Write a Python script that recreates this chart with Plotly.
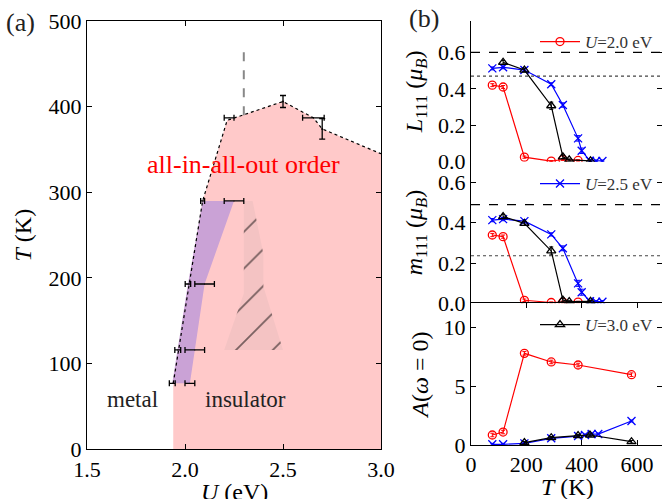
import plotly.graph_objects as go

# ---------------- data: panel (a) phase diagram ----------------
phase_U = [1.94, 2.09, 2.215, 2.5, 2.655, 2.7, 3.0]
phase_T = [77, 290, 384, 406, 387, 374, 345]

purple_T = [77, 116, 193, 290]
purple_left_U = [1.935, 1.963, 2.015, 2.09]
purple_right_U = [2.025, 2.05, 2.1, 2.25]

hatch_U = [2.3, 2.345, 2.4, 2.4, 2.5, 2.2, 2.3]
hatch_T = [290, 290, 228, 190, 116, 116, 182]

eb_small_U = [1.935, 1.963, 2.015, 2.09]
eb_small_T = [77, 116, 193, 290]
eb_small_err = [0.015, 0.015, 0.014, 0.01]

eb_large_U = [2.025, 2.05, 2.1, 2.25, 2.225, 2.655]
eb_large_T = [77, 116, 193, 290, 387, 387]
eb_large_err = [0.025, 0.05, 0.05, 0.05, 0.025, 0.055]

eb_vert_U = [2.5, 2.7]
eb_vert_T = [406, 374]
eb_vert_err = [7, 12]

dash_U = [2.3, 2.3]
dash_T = [390, 464]

# ---------------- data: panel (b) ----------------
T_red = [77, 116, 193, 290, 332, 387]
L_red = [0.42, 0.41, 0.025, 0.003, 0.012, 0.007]
m_red = [0.339, 0.331, 0.015, 0.004, 0.006, 0.006]
err_red = [0.008, 0.008, 0.006, 0.003, 0.005, 0.004]

T_blue = [77, 116, 193, 290, 332, 387, 400, 430, 452, 475]
L_blue = [0.512, 0.518, 0.503, 0.425, 0.311, 0.128, 0.06, 0.005, 0.004, 0.004]
m_blue = [0.413, 0.418, 0.408, 0.342, 0.273, 0.099, 0.055, 0.01, 0.008, 0.008]
err_blue = [0.008, 0.008, 0.008, 0.008, 0.012, 0.015, 0.015, 0.006, 0.005, 0.005]

T_blk = [116, 193, 290, 332, 355, 432]
L_blk = [0.545, 0.503, 0.307, 0.027, 0.01, 0.005]
m_blk = [0.43, 0.397, 0.26, 0.016, 0.008, 0.01]
err_blk = [0.01, 0.01, 0.02, 0.01, 0.005, 0.004]

TA_red = [77, 116, 193, 290, 387, 580]
A_red = [0.85, 1.1, 7.78, 7.05, 6.79, 5.97]
TA_blue = [77, 116, 193, 290, 387, 412, 436, 460, 580]
A_blue = [0.06, 0.06, 0.14, 0.57, 0.76, 0.85, 0.93, 0.93, 2.04]
TA_blk = [193, 290, 387, 430, 580]
A_blk = [0.2, 0.62, 0.8, 0.85, 0.28]

L_dash, L_dot = 0.6, 0.47
m_dash, m_dot = 0.49, 0.236

FONT = "Liberation Serif"
PINK = "#FFC9C9"
PURPLE = "#CAA2D6"
HATCH = "#F4C3C3"

fig = go.Figure()

# pink ordered region
fig.add_trace(go.Scatter(
    x=[phase_U[0]] + phase_U + [phase_U[-1]], y=[0] + phase_T + [0],
    fill="toself", fillcolor=PINK, line=dict(width=0), mode="lines",
    showlegend=False, hoverinfo="skip", xaxis="x", yaxis="y"))
# purple coexistence
fig.add_trace(go.Scatter(
    x=purple_left_U + purple_right_U[::-1], y=purple_T + purple_T[::-1],
    fill="toself", fillcolor=PURPLE, line=dict(width=0), mode="lines",
    showlegend=False, hoverinfo="skip", xaxis="x", yaxis="y"))
# hatched region
fig.add_trace(go.Scatter(
    x=hatch_U, y=hatch_T, fill="toself", fillcolor=HATCH,
    fillpattern=dict(shape="/", fgcolor="black", bgcolor=HATCH, size=26, solidity=0.07),
    line=dict(width=0), mode="lines", showlegend=False, hoverinfo="skip",
    xaxis="x", yaxis="y"))
# dotted boundary
fig.add_trace(go.Scatter(
    x=phase_U, y=phase_T, mode="lines", line=dict(color="black", width=1.2, dash="dot"),
    showlegend=False, hoverinfo="skip", xaxis="x", yaxis="y"))
# dashed gray line
fig.add_trace(go.Scatter(
    x=dash_U, y=dash_T, mode="lines", line=dict(color="#888888", width=2, dash="dash"),
    showlegend=False, hoverinfo="skip", xaxis="x", yaxis="y"))
# error bars
for U, T, e in [(eb_small_U, eb_small_T, eb_small_err), (eb_large_U, eb_large_T, eb_large_err)]:
    fig.add_trace(go.Scatter(
        x=U, y=T, mode="markers", marker=dict(size=1, color="black"),
        error_x=dict(type="data", array=e, color="black", thickness=1.3, width=3),
        showlegend=False, hoverinfo="skip", xaxis="x", yaxis="y"))
fig.add_trace(go.Scatter(
    x=eb_vert_U, y=eb_vert_T, mode="markers", marker=dict(size=2, color="black"),
    error_y=dict(type="data", array=eb_vert_err, color="black", thickness=1.3, width=3),
    showlegend=False, hoverinfo="skip", xaxis="x", yaxis="y"))

# ---- panel (b) traces ----
styles = {
    "red": dict(color="red", symbol="circle-open"),
    "blue": dict(color="blue", symbol="x-thin"),
    "black": dict(color="black", symbol="triangle-up-open"),
}

def add_series(T, v, err, key, ax, legend=None, name=None):
    st = styles[key]
    fig.add_trace(go.Scatter(
        x=T, y=v, mode="lines+markers", name=name,
        line=dict(color=st["color"], width=1.2),
        marker=dict(symbol=st["symbol"], size=8, color=st["color"],
                    line=dict(color=st["color"], width=1.3)),
        error_y=dict(type="data", array=err, color=st["color"], thickness=1, width=2),
        showlegend=legend is not None, legend=legend or "legend",
        xaxis="x2", yaxis=ax))

add_series(T_red, L_red, err_red, "red", "y2", "legend", "<i>U</i>=2.0 eV")
add_series(T_blue, L_blue, err_blue, "blue", "y2")
add_series(T_blk, L_blk, err_blk, "black", "y2")

add_series(T_red, m_red, err_red, "red", "y3")
add_series(T_blue, m_blue, err_blue, "blue", "y3", "legend2", "<i>U</i>=2.5 eV")
add_series(T_blk, m_blk, err_blk, "black", "y3")

add_series(TA_red, A_red, [0.15] * len(A_red), "red", "y4")
add_series(TA_blue, A_blue, [0.08] * len(A_blue), "blue", "y4")
add_series(TA_blk, A_blk, [0.1] * len(A_blk), "black", "y4", "legend3", "<i>U</i>=3.0 eV")

# reference lines (horizontal) in panel b
for y, dash, ax in [(L_dash, "dash", "y2"), (L_dot, "dot", "y2"), (m_dash, "dash", "y3"), (m_dot, "dot", "y3")]:
    fig.add_trace(go.Scatter(
        x=[0, 700], y=[y, y], mode="lines",
        line=dict(color="black" if dash == "dash" else "#444444", width=1.2, dash=dash),
        showlegend=False, hoverinfo="skip", xaxis="x2", yaxis=ax))

W, H = 662, 499
def px_x(p): return p / W
def px_y(p): return 1 - p / H

tickfont = dict(family=FONT, size=22, color="black")
titlefont = dict(family=FONT, size=24, color="black")
axis_common = dict(showline=True, linecolor="black", linewidth=1, mirror="ticks",
                   ticks="inside", ticklen=5, tickcolor="black", tickwidth=1,
                   showgrid=False, zeroline=False, tickfont=tickfont, automargin=False)

xr_right = (W - 471) / 0.2767
legfont = dict(family=FONT, size=17, color="#333333")

def paper_text(text, x, y, font):
    return dict(text=text, x=px_x(x), y=px_y(y), xref="paper", yref="paper",
                xanchor="center", yanchor="middle", showarrow=False, font=font)

fig.update_layout(
    width=W, height=H, margin=dict(l=0, r=0, t=0, b=0),
    paper_bgcolor="white", plot_bgcolor="rgba(0,0,0,0)",
    font=dict(family=FONT, color="black"),
    xaxis=dict(domain=[px_x(87), px_x(381)], range=[1.5, 3.0], dtick=0.5, tickformat=".1f",
               anchor="y", **axis_common),
    yaxis=dict(domain=[px_y(449.3), px_y(21)], range=[0, 500], dtick=100,
               anchor="x", title=dict(text="<i>T</i> (K)", font=titlefont, standoff=10), **axis_common),
    xaxis2=dict(domain=[px_x(471), 1.0], range=[0, xr_right], tickvals=[0, 200, 400, 600],
                anchor="y4", **axis_common),
    xaxis3=dict(domain=[px_x(471), 1.0], range=[0, xr_right], tickvals=[0, 200, 400, 600],
                anchor="y2", matches="x2", showticklabels=False, **axis_common),
    xaxis4=dict(domain=[px_x(471), 1.0], range=[0, xr_right], tickvals=[0, 200, 400, 600],
                anchor="y3", matches="x2", showticklabels=False, **axis_common),
    yaxis2=dict(domain=[px_y(161.7), px_y(21)], range=[0, 0.772], tickvals=[0, 0.2, 0.4, 0.6],
                tickformat=".1f", anchor="x2",
                title=dict(text="<i>L</i><sub>111</sub> (<i>μ<sub>B</sub></i>)", font=titlefont, standoff=8),
                **axis_common),
    yaxis3=dict(domain=[px_y(303.3), px_y(161.7)], range=[0, 0.703], tickvals=[0, 0.2, 0.4, 0.6],
                tickformat=".1f", anchor="x2",
                title=dict(text="<i>m</i><sub>111</sub> (<i>μ<sub>B</sub></i>)", font=titlefont, standoff=8),
                **axis_common),
    yaxis4=dict(domain=[px_y(445), px_y(303.3)], range=[0, 12.03], tickvals=[0, 5, 10],
                anchor="x2",
                title=dict(text="<i>A</i>(<i>ω</i> = 0)", font=titlefont, standoff=8),
                **axis_common),
    legend=dict(x=px_x(535), y=px_y(24), xanchor="left", yanchor="top", itemwidth=40,
                bgcolor="rgba(0,0,0,0)", font=legfont),
    legend2=dict(x=px_x(535), y=px_y(166), xanchor="left", yanchor="top", itemwidth=40,
                 bgcolor="rgba(0,0,0,0)", font=legfont),
    legend3=dict(x=px_x(535), y=px_y(307), xanchor="left", yanchor="top", itemwidth=40,
                 bgcolor="rgba(0,0,0,0)", font=legfont),
    annotations=[
        paper_text("<i>U</i> (eV)", 234, 492, titlefont),
        paper_text("<i>T</i> (K)", 567, 487, titlefont),
        dict(text="all-in-all-out order", x=2.3, y=332, xref="x", yref="y", showarrow=False,
             font=dict(family=FONT, size=26, color="red")),
        dict(text="metal", x=1.734, y=58, xref="x", yref="y", showarrow=False,
             font=dict(family=FONT, size=23, color="#222222")),
        dict(text="insulator", x=2.308, y=58, xref="x", yref="y", showarrow=False,
             font=dict(family=FONT, size=23, color="#222222")),
        paper_text("(a)", 20, 22, dict(family=FONT, size=26, color="#222222")),
        paper_text("(b)", 424, 18, dict(family=FONT, size=26, color="#222222")),
    ],
)

fig.write_html("out.html")
